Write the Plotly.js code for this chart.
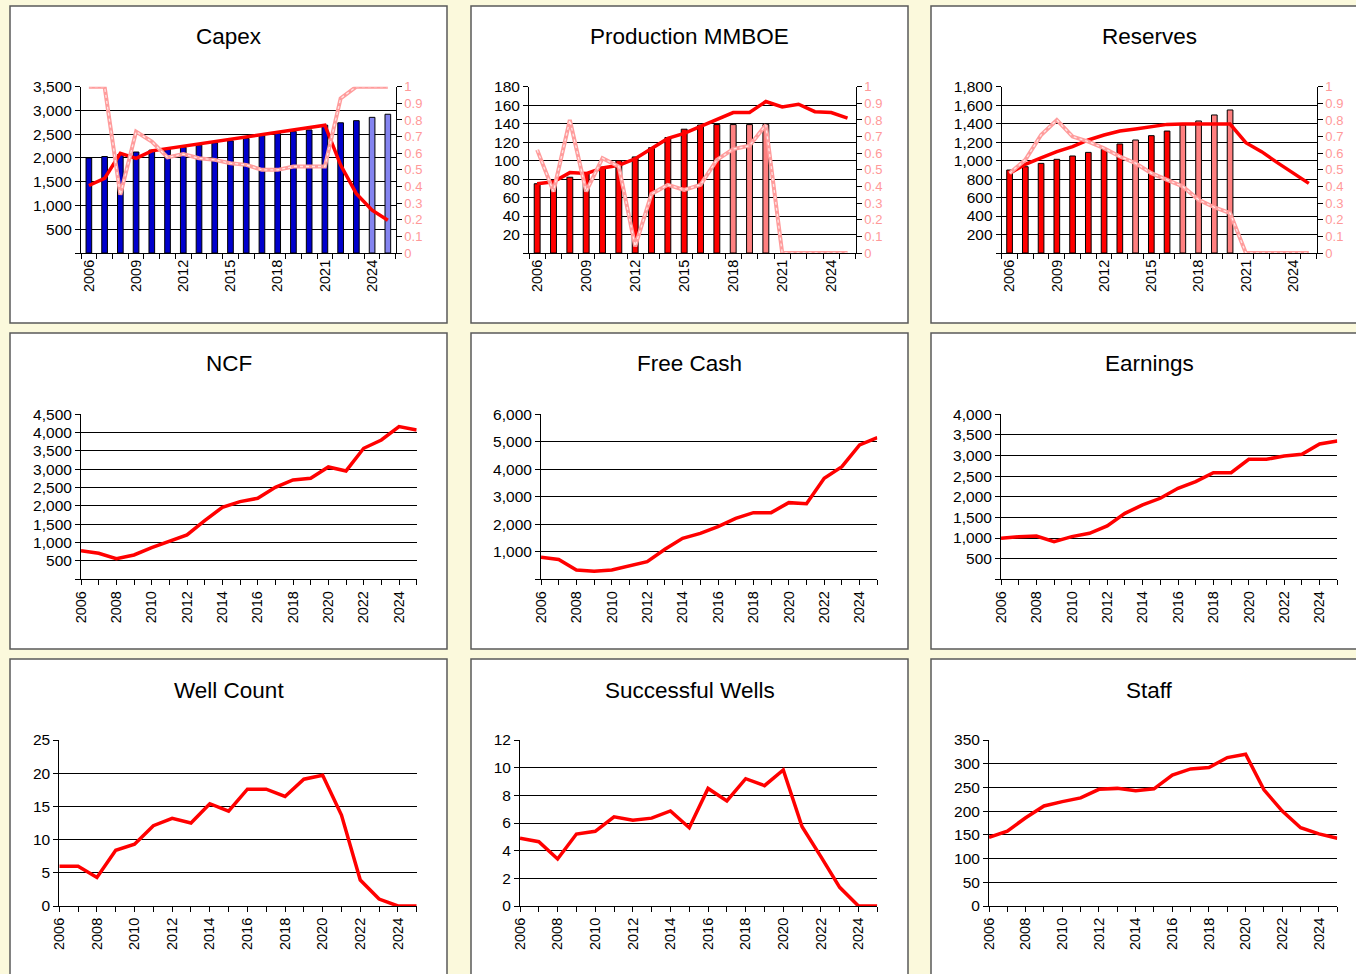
<!DOCTYPE html>
<html>
<head>
<meta charset="utf-8">
<script src="https://cdn.plot.ly/plotly-3.0.1.min.js"></script>
<style>
html,body{margin:0;padding:0;background:#FBF9DC;}
#chart{width:1356px;height:974px;}
</style>
</head>
<body>
<div id="chart"></div>
<script>
// ---------------- DATA ----------------
const years = [2006,2007,2008,2009,2010,2011,2012,2013,2014,2015,2016,2017,2018,2019,2020,2021,2022,2023,2024,2025];

const capexBars   = [2000,2030,2070,2125,2165,2200,2225,2270,2320,2360,2410,2470,2520,2555,2590,2690,2740,2785,2855,2920];
const capexBarStatus = ['A','A','A','A','A','A','A','A','A','A','A','A','A','A','A','A','A','A','F','F'];
const capexLine   = [1420,1570,2100,1990,2150,2200,2250,2290,2340,2390,2440,2490,2540,2590,2640,2690,1850,1250,900,690];
const capexRatio  = [1.0,1.0,0.35,0.73,0.67,0.575,0.595,0.57,0.56,0.54,0.53,0.50,0.50,0.52,0.52,0.52,0.93,1.0,1.0,1.0];

const prodBars    = [75,79,82,87,93,100,104,114,125,134,138.5,139,139,139,139,null,null,null,null,null];
const prodBarStatus = ['A','A','A','A','A','A','A','A','A','A','A','A','F','F','F','N','N','N','N','N'];
const prodLine    = [75,77,87,86,92,95,102,113,124,129.5,137,144.5,152,152,164,158,161,153,152,146];
const prodRatio   = [0.62,0.37,0.80,0.37,0.57,0.52,0.04,0.355,0.41,0.38,0.41,0.56,0.625,0.645,0.77,0,0,0,0,0];

const resBars     = [898,934,970,1014,1050,1089,1122,1180,1223,1270,1320,1385,1429,1494,1548,null,null,null,null,null];
const resBarStatus = ['A','A','A','A','A','A','A','A','F','A','A','F','F','F','F','N','N','N','N','N'];
const resLine     = [862,960,1030,1097,1151,1223,1277,1320,1342,1367,1392,1395,1395,1395,1395,1194,1097,978,869,754];
const resRatio    = [0.48,0.56,0.71,0.80,0.70,0.67,0.63,0.58,0.54,0.48,0.44,0.40,0.32,0.275,0.24,0,0,0,0,0];

const ncf         = [782,709,564,664,864,1027,1209,1600,1964,2118,2209,2509,2709,2755,3064,2955,3573,3800,4164,4073];
const freeCash    = [800,720,340,290,340,485,642,1090,1490,1672,1915,2218,2424,2424,2788,2750,3672,4097,4885,5150];
const earnings    = [994,1034,1050,913,1034,1115,1293,1600,1802,1964,2206,2368,2586,2586,2909,2909,2990,3030,3281,3354];
const wellCount   = [6.0,6.0,4.3,8.4,9.3,12.1,13.2,12.5,15.4,14.3,17.6,17.6,16.5,19.1,19.7,13.7,3.9,1.05,0,0];
const successWells= [4.9,4.65,3.4,5.2,5.4,6.45,6.2,6.35,6.87,5.66,8.5,7.6,9.2,8.7,9.83,5.73,3.57,1.35,0,0];
const staff       = [145,158,186,211,220,228,246,248,243,247,276,289,292,313,320,245,200,165,152,143];

const titles = ['Capex','Production MMBOE','Reserves','NCF','Free Cash','Earnings','Well Count','Successful Wells','Staff'];

// ---------------- LAYOUT HELPERS ----------------
const W = 1356, H = 974;
const FONT = 'Liberation Sans, Arial, sans-serif';
const px = v => v / W;
const py = v => 1 - v / H;
const fmt = v => v.toLocaleString('en-US');

const boxesX = [[10,447],[471,908],[931,1370]];
const boxesY = [[6,323],[333,649],[659,990]];

// plot areas in pixels [x0,x1,y0(top),y1(bottom)]
const areas = [
  [81,395.7,86.7,253],[529,855.7,86.7,253],[1001.7,1316.7,86.7,253],
  [81,416.7,414.3,579.3],[541,877.3,414.3,579.3],[1001,1337.3,414.3,579.3],
  [59.3,416.7,740,906],[520,877.3,740,906],[989,1337.3,740,906]
];
const yRanges = [[0,3500,500,false],[0,180,20,false],[0,1800,200,false],
                 [0,4500,500,false],[0,6000,1000,false],[0,4000,500,false],
                 [0,25,5,true],[0,12,2,true],[0,350,50,true]];

const cats = years.map(String);
const statusColor = {
  capex: {A:'#0000CC', F:'#8484F0', N:'rgba(0,0,0,0)'},
  red:   {A:'#FF0000', F:'#FF8080', N:'rgba(0,0,0,0)'}
};

const layout = {
  width: W, height: H,
  margin: {l:0,r:0,t:0,b:0},
  paper_bgcolor: '#FBF9DC',
  plot_bgcolor: '#FFFFFF',
  showlegend: false,
  barmode: 'overlay',
  font: {family: FONT, color: '#000'},
  shapes: [], annotations: []
};

// panel boxes and titles
for (let r = 0; r < 3; r++) {
  for (let c = 0; c < 3; c++) {
    const bx = boxesX[c], by = boxesY[r];
    layout.shapes.push({type:'rect', xref:'paper', yref:'paper',
      x0: px(bx[0]), x1: px(bx[1]), y0: py(by[1]), y1: py(by[0]),
      fillcolor:'#FFFFFF', line:{color:'#5A5A5A', width:1.5}, layer:'below'});
    const ty = [37, 363, 690][r];
    layout.annotations.push({xref:'paper', yref:'paper', x: px((bx[0]+Math.min(bx[1],1367))/2), y: py(ty),
      text: titles[r*3+c], showarrow:false, xanchor:'center', yanchor:'middle',
      font:{family: FONT, size: 22.5, color:'#000'}});
  }
}

// axes
for (let i = 0; i < 9; i++) {
  const a = areas[i];
  const n = i + 1;
  const xk = 'xaxis' + (n === 1 ? '' : n);
  const yk = 'yaxis' + (n === 1 ? '' : n);
  const xa = {
    domain: [px(a[0]), px(a[1])], anchor: 'y' + (n === 1 ? '' : n),
    showline: true, linecolor: '#000', linewidth: 1,
    ticks: 'outside', ticklen: 5, tickcolor: '#000', tickwidth: 1,
    tickangle: -90, tickfont: {family: FONT, size: 14.5, color: '#000'},
    showgrid: false, zeroline: false, fixedrange: true
  };
  if (i < 3) {
    xa.type = 'category';
    xa.range = [-0.5, years.length - 0.5];
    xa.tickmode = 'array';
    xa.tickvals = cats;
    xa.ticktext = years.map((y, k) => (k % 3 === 0 ? String(y) : ''));
    xa.tickson = 'boundaries';
  } else {
    xa.type = 'linear';
    xa.range = [years[0], years[years.length - 1]];
    xa.tickmode = 'array';
    xa.tickvals = years;
    xa.ticktext = years.map((y, k) => (k % 2 === 0 && k < years.length - 1 ? String(y) : ''));
  }
  layout[xk] = xa;

  const yr = yRanges[i];
  const tv = [], tt = [];
  for (let v = yr[0]; v <= yr[1] + 1e-9; v += yr[2]) {
    tv.push(v);
    tt.push(v === 0 && !yr[3] ? '' : fmt(v));
  }
  layout[yk] = {
    domain: [py(a[3]), py(a[2])], anchor: 'x' + (n === 1 ? '' : n),
    range: [yr[0], yr[1]], tickmode: 'array', tickvals: tv, ticktext: tt,
    showline: true, linecolor: '#000', linewidth: 1,
    ticks: 'outside', ticklen: 5, tickcolor: '#000',
    showgrid: true, gridcolor: '#000', gridwidth: 1, zeroline: false,
    tickfont: {family: FONT, size: 15.5, color: '#000'}, fixedrange: true
  };
}
// secondary axes for top row
for (let c = 0; c < 3; c++) {
  const n = 10 + c;
  const tv = [], tt = [];
  for (let k = 0; k <= 10; k++) { tv.push(k / 10); tt.push(k === 10 ? '1' : (k === 0 ? '0' : (k / 10).toFixed(1))); }
  layout['yaxis' + n] = {
    overlaying: 'y' + (c === 0 ? '' : c + 1), anchor: 'x' + (c === 0 ? '' : c + 1), side: 'right',
    range: [0, 1], tickmode: 'array', tickvals: tv, ticktext: tt,
    showline: true, linecolor: '#000', ticks: 'outside', ticklen: 5, tickcolor: '#000',
    showgrid: false, zeroline: false,
    tickfont: {family: FONT, size: 13, color: '#FF9999'}, fixedrange: true
  };
}

// ---------------- TRACES ----------------
const traces = [];
function topPanel(c, bars, status, palette, line, ratio) {
  const xa = 'x' + (c === 0 ? '' : c + 1);
  const ya = 'y' + (c === 0 ? '' : c + 1);
  const y2 = 'y' + (10 + c);
  traces.push({type:'bar', x: cats, y: bars, xaxis: xa, yaxis: ya, width: 0.36,
    marker: {color: status.map(s => palette[s]), line: {color:'#000', width: 1}}, hoverinfo:'x+y'});
  traces.push({type:'scatter', mode:'lines', x: cats, y: line, xaxis: xa, yaxis: ya,
    line: {color:'#FF0000', width: 3.5}});
  traces.push({type:'scatter', mode:'lines', x: cats, y: ratio, xaxis: xa, yaxis: y2,
    line: {color:'#FF9C9C', width: 4}});
  traces.push({type:'scatter', mode:'lines', x: cats, y: ratio, xaxis: xa, yaxis: y2,
    line: {color:'#FFE4E4', width: 1.3, dash: 'dot'}, hoverinfo:'skip'});
}
topPanel(0, capexBars, capexBarStatus, statusColor.capex, capexLine, capexRatio);
topPanel(1, prodBars, prodBarStatus, statusColor.red, prodLine, prodRatio);
topPanel(2, resBars, resBarStatus, statusColor.red, resLine, resRatio);

const lineSeries = [ncf, freeCash, earnings, wellCount, successWells, staff];
lineSeries.forEach((s, k) => {
  const n = k + 4;
  traces.push({type:'scatter', mode:'lines', x: years, y: s, xaxis: 'x' + n, yaxis: 'y' + n,
    line: {color:'#FF0000', width: 3.5}});
});

Plotly.newPlot('chart', traces, layout, {displayModeBar: false, staticPlot: true});
</script>
</body>
</html>
